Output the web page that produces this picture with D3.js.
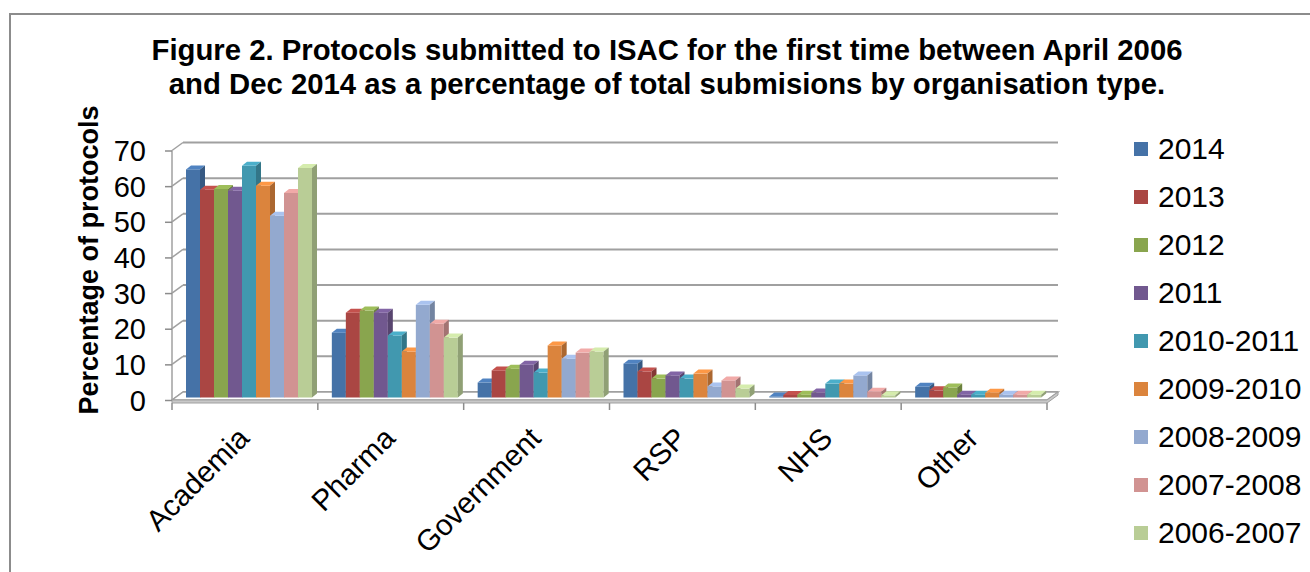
<!DOCTYPE html>
<html>
<head>
<meta charset="utf-8">
<script src="https://cdn.jsdelivr.net/npm/d3@7"></script>
<style>
  body { margin: 0; background: #fff; }
  svg { font-family: "Liberation Sans", Arial, sans-serif; }
</style>
</head>
<body>
<div id="chart"></div>
<script>
// Chart data
var categories = ['Academia', 'Pharma', 'Government', 'RSP', 'NHS', 'Other'];
var seriesNames = ['2014', '2013', '2012', '2011', '2010-2011', '2009-2010', '2008-2009', '2007-2008', '2006-2007'];
var seriesColors = ['#4572A7', '#AA4643', '#89A54E', '#71588F', '#4198AF', '#DB843D', '#93A9CF', '#D19392', '#B9CD96'];
// one array per series, values in category order
var values2014 = [64, 18.2, 4.2, 9.5, 0.3, 3.0];
var values2013 = [58.3, 23.8, 7.6, 7.3, 0.7, 2.0];
var values2012 = [58.5, 24.4, 8.1, 5.3, 0.8, 2.8];
var values2011 = [58, 23.8, 9.2, 6.2, 1.4, 0.8];
var values2010_2011 = [65, 17.4, 7.0, 5.3, 3.9, 0.8];
var values2009_2010 = [59.4, 12.9, 14.6, 6.7, 3.9, 1.3];
var values2008_2009 = [51, 26, 10.9, 3.1, 6.2, 0.8];
var values2007_2008 = [57.4, 20.7, 12.6, 4.8, 1.6, 0.8];
var values2006_2007 = [64.4, 16.8, 12.9, 2.5, 0.6, 0.8];
var yTicks = [0, 10, 20, 30, 40, 50, 60, 70];

var allValues = [values2014, values2013, values2012, values2011, values2010_2011,
  values2009_2010, values2008_2009, values2007_2008, values2006_2007];

var width = 1310, height = 572;
// plot front plane and 3D depth offsets
var plot = { left: 172, right: 1047, bottom: 400, top: 150.5 };
var depth = { dx: 11, dy: -8 };       // floor / wall depth
var barShift = { dx: 3.5, dy: -2.5 }; // bars sit a bit back from the front
var barDepth = { dx: 5, dy: -4 };

var svg = d3.select('#chart')
  .append('svg')
    .attr('width', width)
    .attr('height', height);

// outer frame
svg.append('rect')
  .attr('x', 10).attr('y', 14)
  .attr('width', 1320).attr('height', 600)
  .attr('fill', 'none')
  .attr('stroke', '#8c8c8c')
  .attr('stroke-width', 2);

var x = d3.scaleBand().domain(categories).range([plot.left, plot.right]);
var xs = d3.scaleBand().domain(seriesNames).range([10.5, 136.5]);
var y = d3.scaleLinear().domain([0, 70]).range([plot.bottom, plot.top]);

// back wall gridlines and left side wall lines
var grid = svg.append('g');
yTicks.forEach(function(t) {
  var yy = y(t);
  grid.append('line')
    .attr('x1', plot.left + depth.dx).attr('x2', plot.right + depth.dx)
    .attr('y1', yy + depth.dy).attr('y2', yy + depth.dy)
    .attr('stroke', '#a0a0a0').attr('stroke-width', 2);
  grid.append('line')
    .attr('x1', plot.left).attr('x2', plot.left + depth.dx)
    .attr('y1', yy).attr('y2', yy + depth.dy)
    .attr('stroke', '#a0a0a0').attr('stroke-width', 1.5);
});

// floor slab
var fl = plot.left, fr = plot.right, fb = y(0);
svg.append('path')
  .attr('d', 'M' + fl + ',' + fb + 'L' + (fl + depth.dx) + ',' + (fb + depth.dy) +
    'L' + (fr + depth.dx) + ',' + (fb + depth.dy) + 'L' + fr + ',' + fb + 'Z')
  .attr('fill', '#fff').attr('stroke', '#a0a0a0').attr('stroke-width', 1.5);
svg.append('path')
  .attr('d', 'M' + fl + ',' + fb + 'L' + fr + ',' + fb + 'L' + (fr + depth.dx) + ',' + (fb + depth.dy) +
    'L' + (fr + depth.dx) + ',' + (fb + depth.dy + 3) + 'L' + fr + ',' + (fb + 3) + 'L' + fl + ',' + (fb + 3) + 'Z')
  .attr('fill', '#c8c8c8').attr('stroke', '#a0a0a0').attr('stroke-width', 1);

// front value axis line
svg.append('line')
  .attr('x1', plot.left).attr('x2', plot.left)
  .attr('y1', y(70)).attr('y2', y(0))
  .attr('stroke', '#a0a0a0').attr('stroke-width', 1.5);

// y axis ticks and labels
var yAxis = d3.axisLeft(y).tickValues(yTicks).tickSize(7).tickPadding(19);
var yg = svg.append('g')
  .attr('transform', 'translate(' + plot.left + ',0)')
  .call(yAxis);
yg.select('.domain').remove();
yg.selectAll('.tick line').attr('stroke', '#8c8c8c').attr('stroke-width', 1.5);
yg.selectAll('.tick text')
  .attr('font-size', 29).attr('font-family', 'Liberation Sans, Arial, sans-serif')
  .attr('fill', '#000').attr('dy', '0.35em');

// category tick marks under the floor
var catEdges = categories.map(function(c) { return x(c); }).concat([plot.right]);
svg.selectAll('.cattick').data(catEdges).enter().append('line')
  .attr('class', 'cattick')
  .attr('x1', function(d) { return d; }).attr('x2', function(d) { return d; })
  .attr('y1', fb + 3).attr('y2', fb + 10)
  .attr('stroke', '#8c8c8c').attr('stroke-width', 1.5);

// bars
var bars = [];
categories.forEach(function(c, ci) {
  seriesNames.forEach(function(s, si) {
    bars.push({ cat: c, series: s, color: seriesColors[si], value: allValues[si][ci] });
  });
});

var bw = xs.bandwidth();
var barG = svg.append('g').selectAll('g').data(bars).enter().append('g');
barG.each(function(d) {
  var g = d3.select(this);
  var x0 = x(d.cat) + xs(d.series) + barShift.dx;
  var x1 = x0 + bw;
  var base = y(0) + barShift.dy;
  var top = y(d.value) + barShift.dy;
  var col = d3.color(d.color);
  g.append('rect')
    .attr('x', x0).attr('y', top)
    .attr('width', bw).attr('height', base - top)
    .attr('fill', d.color);
  g.append('path')
    .attr('d', 'M' + x0 + ',' + top + 'L' + x1 + ',' + top + 'L' + (x1 + barDepth.dx) + ',' + (top + barDepth.dy) +
      'L' + (x0 + barDepth.dx) + ',' + (top + barDepth.dy) + 'Z')
    .attr('fill', col.brighter(0.4));
  g.append('path')
    .attr('d', 'M' + x1 + ',' + top + 'L' + (x1 + barDepth.dx) + ',' + (top + barDepth.dy) +
      'L' + (x1 + barDepth.dx) + ',' + (base + barDepth.dy) + 'L' + x1 + ',' + base + 'Z')
    .attr('fill', col.darker(0.7));
});

// category labels
svg.selectAll('.catlabel').data(categories).enter().append('text')
  .attr('class', 'catlabel')
  .attr('transform', function(d) {
    return 'translate(' + (x(d) + x.bandwidth() / 2 + 6) + ',' + 440 + ') rotate(-45)';
  })
  .attr('text-anchor', 'end')
  .attr('font-size', 29.5)
  .text(function(d) { return d; });

// y axis title
svg.append('text')
  .attr('transform', 'translate(98,260) rotate(-90)')
  .attr('text-anchor', 'middle')
  .attr('font-size', 27)
  .attr('font-weight', 'bold')
  .text('Percentage of protocols');

// chart title
var titleLines = ['Figure 2. Protocols submitted to ISAC for the first time between April 2006',
  'and Dec 2014 as a percentage of total submisions by organisation type.'];
svg.selectAll('.title').data(titleLines).enter().append('text')
  .attr('class', 'title')
  .attr('x', 667)
  .attr('y', function(d, i) { return 60 + i * 34; })
  .attr('text-anchor', 'middle')
  .attr('font-size', 29.3)
  .attr('font-weight', 'bold')
  .text(function(d) { return d; });

// legend
var legend = svg.selectAll('.legend').data(seriesNames).enter().append('g')
  .attr('class', 'legend')
  .attr('transform', function(d, i) { return 'translate(1134,' + (149 + i * 48) + ')'; });
legend.append('rect')
  .attr('x', 0).attr('y', -7)
  .attr('width', 14).attr('height', 14)
  .attr('fill', function(d, i) { return seriesColors[i]; });
legend.append('text')
  .attr('x', 24).attr('y', 10)
  .attr('font-size', 30)
  .text(function(d) { return d; });
</script>
</body>
</html>
